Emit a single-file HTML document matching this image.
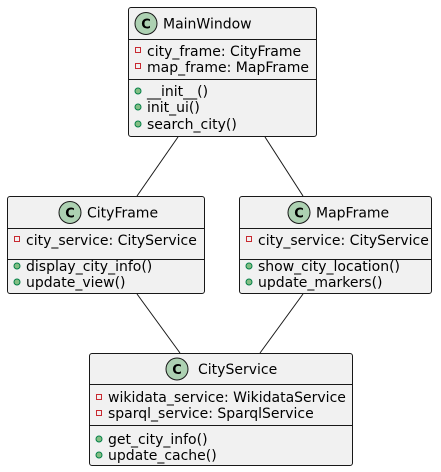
<!DOCTYPE html>
<html><head><style>html,body{margin:0;padding:0;background:#fff}svg{display:block}text{font-family:"DejaVu Sans","Liberation Sans",sans-serif;font-size:14px;fill:#000}</style></head><body>
<svg width="441" height="472" viewBox="0 0 441 472" xmlns="http://www.w3.org/2000/svg">
<g stroke="#181818" stroke-width="1" fill="none">
<line x1="178" y1="137" x2="137" y2="196"/>
<line x1="265" y1="137" x2="303" y2="196"/>
<line x1="137" y1="294" x2="180" y2="353"/>
<line x1="303" y1="294" x2="260" y2="353"/>
</g>
<g>
<rect x="128.5" y="7.5" width="188" height="129" rx="2.5" fill="#F1F1F1" stroke="#181818"/>
<line x1="128.5" y1="39.5" x2="316.5" y2="39.5" stroke="#181818"/>
<line x1="128.5" y1="79.5" x2="316.5" y2="79.5" stroke="#181818"/>
<circle cx="146" cy="23.5" r="11" fill="#ADD1B2" stroke="#181818"/>
<text x="146" y="28.5" text-anchor="middle" style="font-weight:bold;font-size:13px">C</text>
<text x="163" y="28.5">MainWindow</text>
<rect x="135.5" y="47.5" width="5" height="5" fill="none" stroke="#C82930"/>
<text x="147" y="56">city_frame: CityFrame</text>
<rect x="135.5" y="63.5" width="5" height="5" fill="none" stroke="#C82930"/>
<text x="147" y="72">map_frame: MapFrame</text>
<circle cx="138" cy="91" r="3" fill="#84BE84" stroke="#038048"/>
<text x="147" y="96">__init__()</text>
<circle cx="138" cy="107" r="3" fill="#84BE84" stroke="#038048"/>
<text x="147" y="112">init_ui()</text>
<circle cx="138" cy="124" r="3" fill="#84BE84" stroke="#038048"/>
<text x="147" y="129">search_city()</text>
</g>
<g>
<rect x="7.5" y="196.5" width="197" height="97" rx="2.5" fill="#F1F1F1" stroke="#181818"/>
<line x1="7.5" y1="228.5" x2="204.5" y2="228.5" stroke="#181818"/>
<line x1="7.5" y1="259.5" x2="204.5" y2="259.5" stroke="#181818"/>
<circle cx="70" cy="212.5" r="11" fill="#ADD1B2" stroke="#181818"/>
<text x="70" y="217.5" text-anchor="middle" style="font-weight:bold;font-size:13px">C</text>
<text x="87" y="217.5">CityFrame</text>
<rect x="14.5" y="236.5" width="5" height="5" fill="none" stroke="#C82930"/>
<text x="26" y="245">city_service: CityService</text>
<circle cx="17" cy="266" r="3" fill="#84BE84" stroke="#038048"/>
<text x="26" y="271">display_city_info()</text>
<circle cx="17" cy="282" r="3" fill="#84BE84" stroke="#038048"/>
<text x="26" y="287">update_view()</text>
</g>
<g>
<rect x="239.5" y="196.5" width="192" height="97" rx="2.5" fill="#F1F1F1" stroke="#181818"/>
<line x1="239.5" y1="228.5" x2="431.5" y2="228.5" stroke="#181818"/>
<line x1="239.5" y1="259.5" x2="431.5" y2="259.5" stroke="#181818"/>
<circle cx="299" cy="212.5" r="11" fill="#ADD1B2" stroke="#181818"/>
<text x="299" y="217.5" text-anchor="middle" style="font-weight:bold;font-size:13px">C</text>
<text x="316" y="217.5">MapFrame</text>
<rect x="246.5" y="236.5" width="5" height="5" fill="none" stroke="#C82930"/>
<text x="258" y="245">city_service: CityService</text>
<circle cx="249" cy="266" r="3" fill="#84BE84" stroke="#038048"/>
<text x="258" y="271">show_city_location()</text>
<circle cx="249" cy="282" r="3" fill="#84BE84" stroke="#038048"/>
<text x="258" y="287">update_markers()</text>
</g>
<g>
<rect x="89.5" y="353.5" width="263" height="112" rx="2.5" fill="#F1F1F1" stroke="#181818"/>
<line x1="89.5" y1="384.5" x2="352.5" y2="384.5" stroke="#181818"/>
<line x1="89.5" y1="425.5" x2="352.5" y2="425.5" stroke="#181818"/>
<circle cx="177" cy="369" r="11" fill="#ADD1B2" stroke="#181818"/>
<text x="177" y="374" text-anchor="middle" style="font-weight:bold;font-size:13px">C</text>
<text x="198" y="374">CityService</text>
<rect x="96.5" y="394.5" width="5" height="5" fill="none" stroke="#C82930"/>
<text x="108" y="402">wikidata_service: WikidataService</text>
<rect x="96.5" y="410.5" width="5" height="5" fill="none" stroke="#C82930"/>
<text x="108" y="418">sparql_service: SparqlService</text>
<circle cx="99" cy="439" r="3" fill="#84BE84" stroke="#038048"/>
<text x="108" y="444">get_city_info()</text>
<circle cx="99" cy="455" r="3" fill="#84BE84" stroke="#038048"/>
<text x="108" y="460">update_cache()</text>
</g>
</svg>
</body></html>
